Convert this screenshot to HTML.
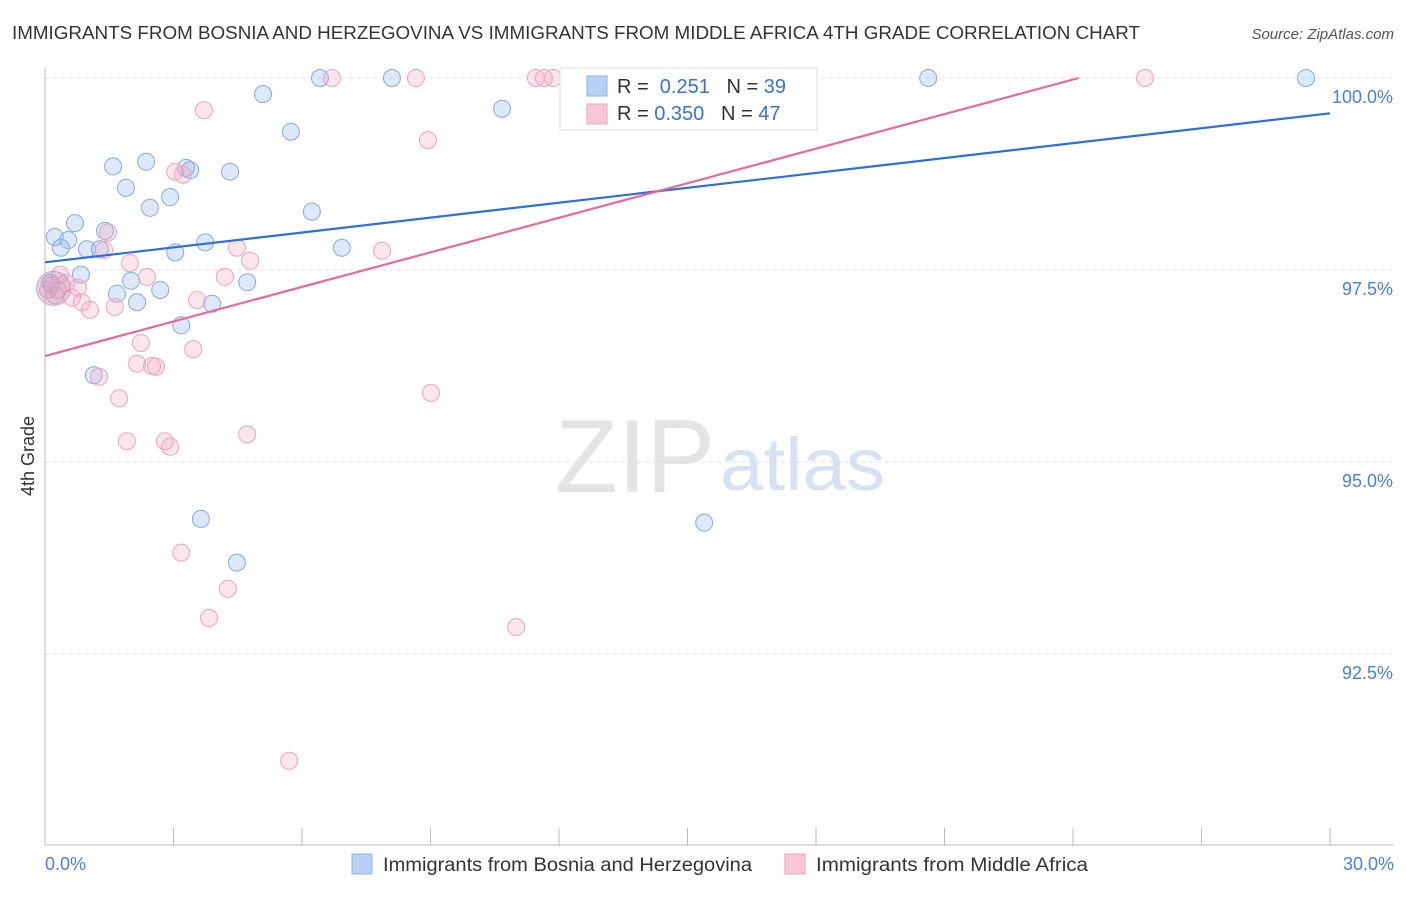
<!DOCTYPE html>
<html><head><meta charset="utf-8"><style>
body{margin:0;background:#fff;font-family:"Liberation Sans",sans-serif;}
svg text{font-family:"Liberation Sans",sans-serif;}
</style></head><body>
<svg id="chart" width="1406" height="892">
<text x="12" y="39" font-size="18" fill="#333" textLength="1128" lengthAdjust="spacingAndGlyphs">IMMIGRANTS FROM BOSNIA AND HERZEGOVINA VS IMMIGRANTS FROM MIDDLE AFRICA 4TH GRADE CORRELATION CHART</text>
<text x="1394" y="39" font-size="15" fill="#555" text-anchor="end" font-style="italic">Source: ZipAtlas.com</text>
<text x="555" y="492" font-size="104" fill="#e4e4e4" textLength="160" lengthAdjust="spacingAndGlyphs" font-family="Liberation Serif">ZIP</text>
<text x="720" y="490" font-size="74" fill="#d6e2f3" textLength="165" lengthAdjust="spacingAndGlyphs">atlas</text>
<g id="grid"></g><g id="axes"></g><g id="pts"></g><g id="lines"></g>
<text transform="translate(34,456) rotate(-90)" font-size="18" fill="#333" text-anchor="middle">4th Grade</text>
<text x="45" y="870" font-size="18" fill="#4a7fd4">0.0%</text>
<text x="1394" y="870" font-size="18" fill="#4a7fd4" text-anchor="end">30.0%</text>
<g>
<rect x="560" y="68" width="257" height="62" fill="#fff" stroke="#ddd"/>
<rect x="587" y="76" width="20" height="20" fill="#b8d0f4" stroke="#8fb0e6"/>
<rect x="587" y="104" width="20" height="20" fill="#f9c6d6" stroke="#f0a0bc"/>
<text x="617" y="93" font-size="20" fill="#333">R = <tspan fill="#3c70d0">&#160;0.251</tspan>&#160;&#160;&#160;N = <tspan fill="#3c70d0">39</tspan></text>
<text x="617" y="120" font-size="20" fill="#333">R = <tspan fill="#3c70d0">0.350</tspan>&#160;&#160;&#160;N = <tspan fill="#3c70d0">47</tspan></text>
</g>
<g><rect x="352" y="854" width="20" height="20" fill="#b8d0f4" stroke="#8fb0e6"/><text x="383" y="871" font-size="19" fill="#333" textLength="369" lengthAdjust="spacingAndGlyphs">Immigrants from Bosnia and Herzegovina</text></g>
<g><rect x="785" y="854" width="20" height="20" fill="#f9c6d6" stroke="#f0a0bc"/><text x="816" y="871" font-size="19" fill="#333" textLength="272" lengthAdjust="spacingAndGlyphs">Immigrants from Middle Africa</text></g>
</svg>
<script>
const blueX=[0.23,0.54,0.37,0.70,0.98,1.28,0.84,0.12,1.59,1.89,2.36,2.45,2.92,3.29,3.39,4.32,5.09,5.74,6.23,6.42,8.10,10.67,20.62,29.44,3.04,3.74,6.93,2.01,1.68,2.15,2.69,4.72,3.90,3.18,1.14,3.64,4.48,15.39,1.40];
const blueY=[97.93,97.89,97.79,98.11,97.77,97.77,97.44,97.33,98.85,98.57,98.91,98.31,98.45,98.83,98.80,98.78,99.79,99.30,98.26,100,100,99.60,100,100,97.73,97.86,97.79,97.36,97.19,97.08,97.24,97.34,97.06,96.78,96.13,94.26,93.69,94.21,98.01];
const pinkX=[0.16,0.35,0.23,0.49,0.63,0.86,1.05,0.77,1.38,1.47,1.98,2.38,1.63,2.24,2.15,2.59,2.50,3.46,3.55,3.04,3.22,3.71,4.48,4.79,4.20,1.73,1.26,1.91,2.80,2.92,4.72,3.18,4.27,3.83,5.70,6.70,8.66,8.94,7.87,9.01,11.00,11.46,11.65,11.86,25.68,0.07,0.30];
const pinkY=[97.30,97.44,97.17,97.33,97.14,97.08,96.98,97.27,97.76,97.99,97.59,97.41,97.02,96.55,96.28,96.24,96.25,96.47,97.11,98.78,98.74,99.58,97.79,97.62,97.41,95.83,96.11,95.27,95.27,95.20,95.36,93.82,93.35,92.97,91.11,100,100,99.19,97.75,95.90,92.85,100,100,100,100,97.24,97.24];
const blueTrend=[97.60,99.54];
const pinkTrend=[96.38,0.150];
const yTicks=[100,97.5,95,92.5];
const yTickLabels=["100.0%","97.5%","95.0%","92.5%"];
const xTicks=[0,3,6,9,12,15,18,21,24,27,30];
const NS='http://www.w3.org/2000/svg';
const sx=v=>45+v/30*1285, sy=v=>78+(100-v)/2.5*192;
function mk(t,a,p){const e=document.createElementNS(NS,t);for(const k in a)e.setAttribute(k,a[k]);document.getElementById(p).appendChild(e);return e;}
yTicks.forEach((t,i)=>{
 const l=mk('line',{x1:45,x2:1394,y1:sy(t),y2:sy(t),stroke:'#ddd','stroke-dasharray':'4,4'},'grid');
 
 
 const tx=mk('text',{x:1393,y:sy(t)+25,'font-size':18,fill:'#4a7fd4','text-anchor':'end'},'grid');tx.textContent=yTickLabels[i];
 
 
});
const ax=mk('line',{x1:45,x2:1394,y1:845,y2:845,stroke:'#bbb'},'axes');


const ay=mk('line',{x1:45,x2:45,y1:68,y2:845,stroke:'#bbb'},'axes');


xTicks.forEach(t=>{const l=mk('line',{x1:sx(t),x2:sx(t),y1:828,y2:845,stroke:'#bbb'},'axes');
 
 });
function pts(X,Y,fill,stroke,name){X.forEach((x,i)=>{const c=mk('circle',{cx:sx(x),cy:sy(Y[i]),r:8.5,fill:fill,stroke:stroke,'stroke-width':1},'pts');
 
 });}
pts(blueX,blueY,'rgba(150,185,240,0.32)','#86aae4','bosnia-point');
pts(pinkX,pinkY,'rgba(245,165,192,0.28)','#efa2bd','middle-africa-point');
const big=mk('circle',{cx:sx(0.2),cy:sy(97.26),r:17,fill:'rgba(190,150,190,0.4)',stroke:'#d8a0c0'},'pts');


const bl=mk('line',{x1:sx(0),y1:sy(blueTrend[0]),x2:sx(30),y2:sy(blueTrend[1]),stroke:'#2f6fd8','stroke-width':2.2},'lines');


const xe=Math.min(30,(100-pinkTrend[0])/pinkTrend[1]);
const pl=mk('line',{x1:sx(0),y1:sy(pinkTrend[0]),x2:sx(xe),y2:sy(pinkTrend[0]+pinkTrend[1]*xe),stroke:'#e8689a','stroke-width':2.2},'lines');


</script>
</body></html>
